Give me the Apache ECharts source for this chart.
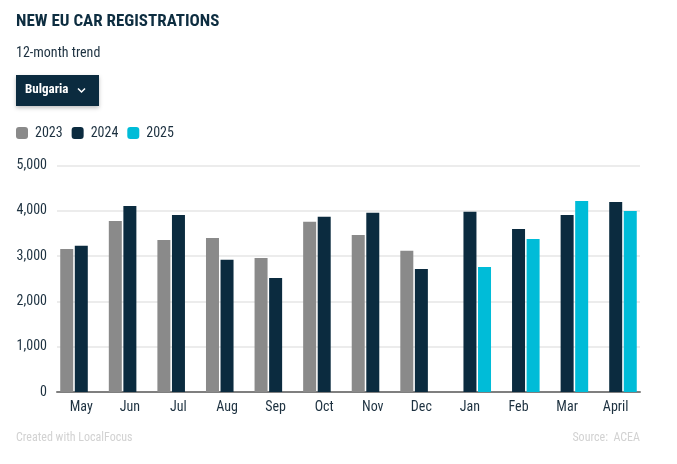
<!DOCTYPE html>
<html>
<head>
<meta charset="utf-8">
<script src="https://cdn.jsdelivr.net/npm/echarts@6/dist/echarts.min.js"></script>
<style>
html,body{margin:0;padding:0;background:#fff;}
#chart{width:677px;height:464px;}
</style>
</head>
<body>
<div id="chart"></div>
<script>
const categories = ['May','Jun','Jul','Aug','Sep','Oct','Nov','Dec','Jan','Feb','Mar','April'];
const seriesNames = ['2023','2024','2025'];
const values2023 = [3160,3780,3360,3400,2960,3760,3470,3120,null,null,null,null];
const values2024 = [3230,4110,3910,2920,2520,3870,3960,2720,3980,3600,3910,4200];
const values2025 = [null,null,null,null,null,null,null,null,2760,3380,4220,4000];
const yTicks = [0,1000,2000,3000,4000,5000];

const colors = ['#8a8a8a','#0b2b3f','#00bcd8'];
const FONT = '"Roboto Condensed", "Liberation Sans Narrow", Roboto, sans-serif';
const TEXT = '#1d3140';

const chart = echarts.init(document.getElementById('chart'));
const dataSets = [values2023, values2024, values2025];

chart.setOption({
  animation: false,
  textStyle: { fontFamily: FONT },
  grid: { left: 57, right: 37, top: 165.7, bottom: 72, containLabel: false },
  legend: {
    left: 16, top: 126, padding: 0,
    itemWidth: 12, itemHeight: 12, itemGap: 9,
    icon: 'roundRect',
    data: seriesNames,
    textStyle: { fontSize: 14, color: TEXT, fontFamily: FONT, padding: [0,0,0,2] },
    selectedMode: false
  },
  xAxis: {
    type: 'category',
    data: categories,
    axisLine: { lineStyle: { color: '#7f7f7f', width: 2 } },
    axisTick: { show: false },
    axisLabel: { fontSize: 14, color: TEXT, margin: 8, fontFamily: FONT, interval: 0 }
  },
  yAxis: {
    type: 'value',
    min: yTicks[0], max: yTicks[yTicks.length-1], interval: 1000,
    axisLine: { show: false },
    axisTick: { show: false },
    splitLine: { lineStyle: { color: '#e6e6e6', width: 1.5 } },
    axisLabel: {
      fontSize: 14, color: TEXT, margin: 10, fontFamily: FONT,
      formatter: v => v.toLocaleString('en-US')
    }
  },
  series: seriesNames.map((n, i) => ({
    name: n,
    type: 'bar',
    data: dataSets[i],
    barWidth: 13,
    barGap: '12%',
    itemStyle: { color: colors[i] }
  })),
  graphic: [
    { type: 'text', left: 16, top: 13,
      style: { text: 'NEW EU CAR REGISTRATIONS', fill: '#0d2d40', fontSize: 17, fontWeight: 'bold', fontFamily: FONT } },
    { type: 'text', left: 16, top: 46,
      style: { text: '12-month trend', fill: TEXT, fontSize: 14, fontFamily: FONT } },
    { type: 'rect', left: 16, top: 75, shape: { width: 83, height: 31 },
      style: { fill: '#0b2b3f', shadowBlur: 4, shadowOffsetY: 2, shadowColor: 'rgba(0,0,0,0.25)' } },
    { type: 'text', left: 25, top: 83,
      style: { text: 'Bulgaria', fill: '#ffffff', fontSize: 13, fontWeight: 'bold', fontFamily: FONT } },
    { type: 'polyline', shape: { points: [[78,88.5],[81.5,92],[85,88.5]] },
      style: { stroke: '#ffffff', lineWidth: 1.5, fill: null } },
    { type: 'text', left: 16, top: 432,
      style: { text: 'Created with LocalFocus', fill: '#d2d2d2', fontSize: 12, fontFamily: FONT } },
    { type: 'text', right: 37, top: 432,
      style: { text: 'Source:  ACEA', fill: '#d2d2d2', fontSize: 12, fontFamily: FONT } }
  ]
});
</script>
</body>
</html>
